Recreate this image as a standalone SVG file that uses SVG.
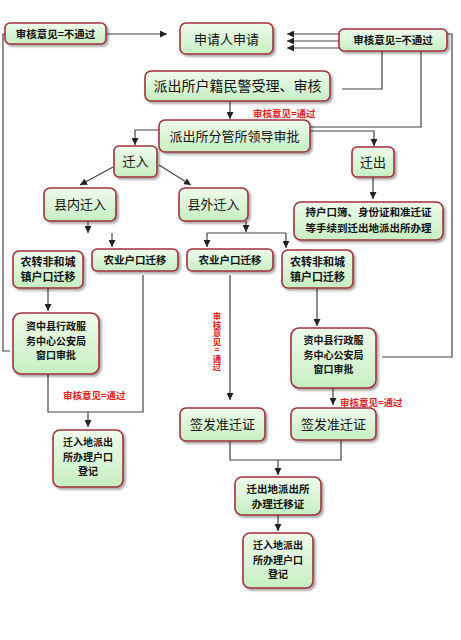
<svg xmlns="http://www.w3.org/2000/svg" width="461" height="640" viewBox="0 0 461 640">
<style>
.box{fill:url(#g);stroke:#a2303c;stroke-width:1.6;filter:url(#sh)}
.t{font-family:"Noto Sans CJK SC","Noto Sans CJK TC",sans-serif;fill:#111;text-anchor:middle}
.L{font-size:13px}
.S{font-size:10.5px;font-weight:bold}
.M{font-size:10px;font-weight:bold}
.red{font-family:"Noto Sans CJK SC",sans-serif;font-size:9.5px;font-weight:bold;fill:#e0201c}
.c{fill:none;stroke:#444;stroke-width:1.2}
.a{marker-end:url(#ah)}
</style>
<defs>
<linearGradient id="g" x1="0" y1="0" x2="0" y2="1">
<stop offset="0" stop-color="#effcec"/>
<stop offset="1" stop-color="#c6eec2"/>
</linearGradient>
<filter id="sh" x="-10%" y="-10%" width="130%" height="140%">
<feDropShadow dx="2" dy="2" stdDeviation="1.2" flood-color="#000" flood-opacity="0.35"/>
</filter>
<marker id="ah" viewBox="0 0 8 8" refX="8" refY="4" markerWidth="7" markerHeight="7" orient="auto" markerUnits="userSpaceOnUse">
<path d="M0,0 L8,4 L0,8 z" fill="#222"/>
</marker>
</defs>
<rect width="461" height="640" fill="#fff"/>
<g id="connectors">
<path class="c a" d="M106,34 H167"/>
<path class="c a" d="M339,34 H287"/>
<path class="c a" d="M339,41 H287"/>
<path class="c a" d="M339,48 H287"/>
<path class="c" d="M382,51 V89 H342"/>
<path class="c" d="M421,51 V127 H310"/>
<path class="c a" d="M310,131 H374 V146"/>
<path class="c a" d="M373,177 V199"/>
<path class="c" d="M447,34 H452 V357 H382"/>
<path class="c" d="M5,34 H3 V351 H10"/>
<path class="c a" d="M230,101 V119"/>
<path class="c a" d="M159,130 H135 V145"/>
<path class="c a" d="M113,167 L80,185"/>
<path class="c a" d="M159,165 L191,185"/>
<path class="c a" d="M88,221 V233"/>
<path class="c a" d="M112,233 V247"/>
<path class="c a" d="M246,221 V232"/>
<path class="c" d="M207,233 H286"/>
<path class="c a" d="M207,233 V247"/>
<path class="c a" d="M286,233 V248"/>
<path class="c a" d="M48,288 V311"/>
<path class="c" d="M48,374 V412 H143 V275"/>
<path class="c a" d="M88,412 V427"/>
<path class="c a" d="M230,275 V400"/>
<path class="c a" d="M317,288 V326"/>
<path class="c a" d="M333,388 V405"/>
<path class="c" d="M230,441 V460 H341 V440"/>
<path class="c a" d="M278,460 V475"/>
<path class="c a" d="M278,515 V531"/>
</g>
<g id="labels">
<text class="red" x="253" y="117">审核意见=通过</text>
<text class="red" x="63" y="399">审核意见=通过</text>
<text class="red" x="340" y="406">审核意见=通过</text>
<text class="red" x="217" y="312" style="writing-mode:vertical-rl;text-orientation:upright;font-size:8.5px">审核意见=通过</text>
</g>
<g id="n1"><rect class="box" x="5" y="23" width="101" height="21" rx="5"/><text class="t S" x="55.5" y="37.5">审核意见=不通过</text></g>
<g id="n2"><rect class="box" x="180" y="23" width="93" height="31" rx="6"/><text class="t L" x="226.5" y="43.5">申请人申请</text></g>
<g id="n3"><rect class="box" x="339" y="29" width="108" height="22" rx="5"/><text class="t S" x="393" y="44">审核意见=不通过</text></g>
<g id="n4"><rect class="box" x="145" y="71" width="185" height="30" rx="6"/><text class="t" style="font-size:14px" x="237.5" y="91">派出所户籍民警受理、审核</text></g>
<g id="n5"><rect class="box" x="159" y="120" width="151" height="32" rx="6"/><text class="t L" x="234.5" y="141">派出所分管所领导审批</text></g>
<g id="n6"><rect class="box" x="114" y="146" width="43" height="31" rx="5"/><text class="t L" x="135.5" y="166">迁入</text></g>
<g id="n7"><rect class="box" x="352" y="147" width="42" height="30" rx="5"/><text class="t L" x="373" y="167">迁出</text></g>
<g id="n8"><rect class="box" x="294" y="202" width="149" height="38" rx="7"/><text class="t S"><tspan x="368.5" y="216">持户口簿、身份证和准迁证</tspan><tspan x="368.5" y="231.5">等手续到迁出地派出所办理</tspan></text></g>
<g id="n9"><rect class="box" x="44" y="188" width="72" height="33" rx="6"/><text class="t L" x="80" y="209">县内迁入</text></g>
<g id="n10"><rect class="box" x="179" y="188" width="69" height="33" rx="6"/><text class="t L" x="213.5" y="209">县外迁入</text></g>
<g id="n11"><rect class="box" x="13" y="251" width="70" height="37" rx="6"/><text class="t S" style="font-size:11px"><tspan x="48" y="266">农转非和城</tspan><tspan x="48" y="281">镇户口迁移</tspan></text></g>
<g id="n12"><rect class="box" x="92" y="249" width="86" height="22" rx="5"/><text class="t S" x="135" y="264">农业户口迁移</text></g>
<g id="n13"><rect class="box" x="187" y="249" width="86" height="22" rx="5"/><text class="t S" x="230" y="264">农业户口迁移</text></g>
<g id="n14"><rect class="box" x="282" y="250" width="71" height="38" rx="6"/><text class="t S" style="font-size:11px"><tspan x="317.5" y="266">农转非和城</tspan><tspan x="317.5" y="281">镇户口迁移</tspan></text></g>
<g id="n15"><rect class="box" x="13" y="313" width="86" height="61" rx="8"/><text class="t M"><tspan x="56" y="330">资中县行政服</tspan><tspan x="56" y="344.5">务中心公安局</tspan><tspan x="56" y="359">窗口审批</tspan></text></g>
<g id="n16"><rect class="box" x="291" y="328" width="85" height="60" rx="8"/><text class="t M"><tspan x="333.5" y="344">资中县行政服</tspan><tspan x="333.5" y="358.5">务中心公安局</tspan><tspan x="333.5" y="373">窗口审批</tspan></text></g>
<g id="n17"><rect class="box" x="53" y="430" width="70" height="57" rx="7"/><text class="t M"><tspan x="88" y="446">迁入地派出</tspan><tspan x="88" y="460.5">所办理户口</tspan><tspan x="88" y="475">登记</tspan></text></g>
<g id="n18"><rect class="box" x="180" y="408" width="85" height="33" rx="6"/><text class="t L" x="222.5" y="429">签发准迁证</text></g>
<g id="n19"><rect class="box" x="291" y="408" width="85" height="32" rx="6"/><text class="t L" x="333.5" y="429">签发准迁证</text></g>
<g id="n20"><rect class="box" x="235" y="477" width="86" height="38" rx="7"/><text class="t S"><tspan x="278" y="493">迁出地派出所</tspan><tspan x="278" y="507.5">办理迁移证</tspan></text></g>
<g id="n21"><rect class="box" x="243" y="533" width="70" height="55" rx="7"/><text class="t M"><tspan x="278" y="549">迁入地派出</tspan><tspan x="278" y="563.5">所办理户口</tspan><tspan x="278" y="578">登记</tspan></text></g>
</svg>
